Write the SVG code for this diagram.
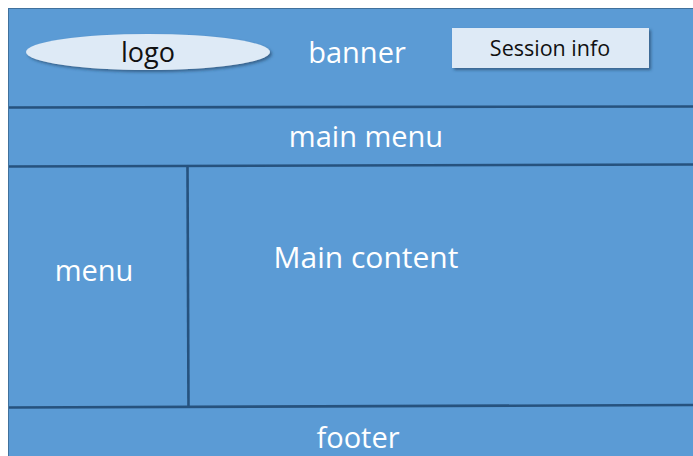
<svg xmlns="http://www.w3.org/2000/svg" width="693" height="456" viewBox="0 0 693 456">
<defs>
<filter id="sh" x="-10%" y="-30%" width="120%" height="170%">
<feDropShadow dx="2" dy="2" stdDeviation="1.5" flood-color="#1f3d5c" flood-opacity="0.6"/>
</filter>
</defs>
<style>
.w{fill:#ffffff;font-family:"Open Sans","Liberation Sans",sans-serif;text-anchor:middle}
.k{fill:#111111;font-family:"Open Sans","Liberation Sans",sans-serif;text-anchor:middle}
.ln{stroke:#26527e;stroke-width:2.6;fill:none}
.lt{fill:#deeaf6}
</style>
<rect x="0" y="0" width="693" height="456" fill="#ffffff"/>
<rect id="page" x="8.5" y="8.5" width="690" height="452" fill="#5b9bd5" stroke="#41719c" stroke-width="1"/>
<g id="connectors">
<path class="ln" d="M9 107.5 L693 106.5"/>
<path class="ln" d="M9 166.5 L693 164.5"/>
<path class="ln" d="M9 407.5 L693 405"/>
<path class="ln" d="M187.5 167 L188.5 406"/>
</g>
<g id="logo">
<ellipse class="lt" cx="148" cy="52" rx="122" ry="18" filter="url(#sh)"/>
<text class="k" x="148" y="62" font-size="27">logo</text>
</g>
<g id="banner">
<text class="w" x="357" y="63" font-size="29">banner</text>
</g>
<g id="session">
<rect class="lt" x="452" y="28" width="197" height="40" filter="url(#sh)"/>
<text class="k" x="550" y="56" font-size="21.5">Session info</text>
</g>
<g id="mainmenu">
<text class="w" x="366" y="147" font-size="29">main menu</text>
</g>
<g id="menu">
<text class="w" x="94" y="281" font-size="29">menu</text>
</g>
<g id="content">
<text class="w" x="366" y="268" font-size="30">Main content</text>
</g>
<g id="footer">
<text class="w" x="358" y="448" font-size="29">footer</text>
</g>
</svg>
